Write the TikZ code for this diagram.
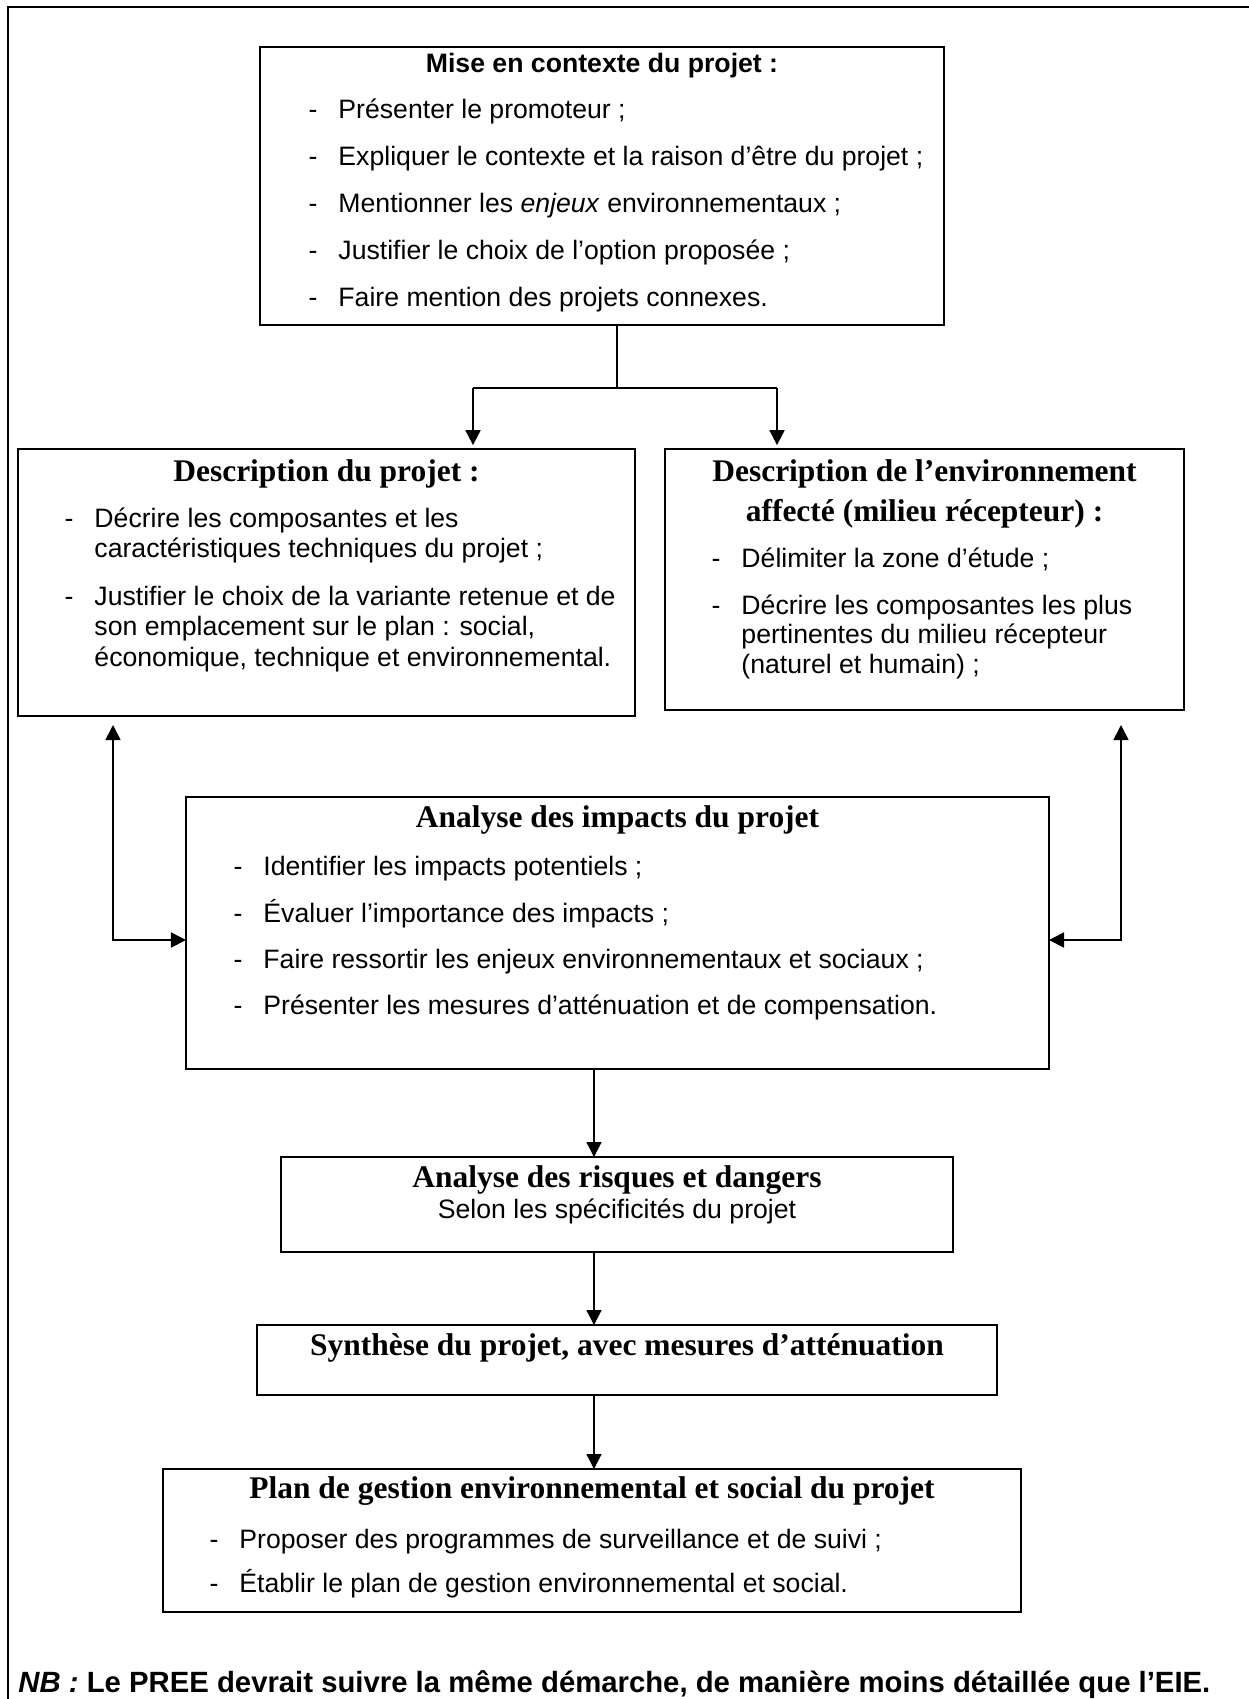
\documentclass[tikz,border=0pt]{standalone}
\usepackage{fontspec}
\setmainfont{Liberation Sans}
\newfontfamily\titrefont{Liberation Serif}
\usetikzlibrary{arrows.meta}

\newdimen\unitpx
\unitpx=0.413pt
\newcommand{\tiret}{\llap{-\hspace{21\unitpx}}}

\begin{document}
\begin{tikzpicture}[x=0.413pt, y=-0.413pt,
	boite/.style={draw, line width=0.8pt, anchor=north west, inner sep=0pt, outer sep=0pt},
	lien/.style={line width=0.7pt},
	fleche/.style={line width=0.7pt, -{Triangle[length=6.2pt, width=6.2pt]}},
	fleches/.style={line width=0.7pt, {Triangle[length=6.2pt, width=6.2pt]}-{Triangle[length=6.2pt, width=6.2pt]}},
	ligne/.style={anchor=base west, inner sep=0pt, font=\fontsize{11}{13}\selectfont},
	centre/.style={anchor=base, inner sep=0pt, font=\fontsize{11}{13}\selectfont},
	titre/.style={anchor=base, inner sep=0pt, font=\titrefont\fontsize{13}{15}\selectfont\bfseries}]
	
	\useasboundingbox (0,0) rectangle (1249,1699);
	
	\draw [line width=0.95pt] (8,1699) -- (8,7) -- (1249,7);
	
	\node [boite, minimum width={684*\unitpx}, minimum height={278*\unitpx}] (contexte) at (260,47) {};
	\node [centre, font=\fontsize{11}{13}\selectfont\bfseries] (c0) at (602,72) {Mise en contexte du projet :};
	\node [ligne] (c1) at (338,118) {\tiret Présenter le promoteur ;};
	\node [ligne] (c2) at (338,165) {\tiret Expliquer le contexte et la raison d’être du projet ;};
	\node [ligne] (c3) at (338,212) {\tiret Mentionner les \textit{enjeux} environnementaux ;};
	\node [ligne] (c4) at (338,259) {\tiret Justifier le choix de l’option proposée ;};
	\node [ligne] (c5) at (338,306) {\tiret Faire mention des projets connexes.};
	
	\node [boite, minimum width={617*\unitpx}, minimum height={267*\unitpx}] (descr) at (18,449) {};
	\node [titre] (d0) at (326.5,481) {Description du projet :};
	\node [ligne] (d1) at (94,527) {\tiret Décrire les composantes et les};
	\node [ligne] (d2) at (94,557) {caractéristiques techniques du projet ;};
	\node [ligne] (d3) at (94,605) {\tiret Justifier le choix de la variante retenue et de};
	\node [ligne] (d4) at (94,635) {son emplacement sur le plan : social,};
	\node [ligne] (d5) at (94,666) {économique, technique et environnemental.};
	
	\node [boite, minimum width={519*\unitpx}, minimum height={261*\unitpx}] (env) at (665,449) {};
	\node [titre] (e0) at (924.5,481) {Description de l’environnement};
	\node [titre] (e1) at (924.5,521) {affecté (milieu récepteur) :};
	\node [ligne] (e2) at (741,567) {\tiret Délimiter la zone d’étude ;};
	\node [ligne] (e3) at (741,614) {\tiret Décrire les composantes les plus};
	\node [ligne] (e4) at (741,643) {pertinentes du milieu récepteur};
	\node [ligne] (e5) at (741,673) {(naturel et humain) ;};
	
	\node [boite, minimum width={863*\unitpx}, minimum height={272*\unitpx}] (impacts) at (186,797) {};
	\node [titre] (i0) at (617.5,827) {Analyse des impacts du projet};
	\node [ligne] (i1) at (263,875) {\tiret Identifier les impacts potentiels ;};
	\node [ligne] (i2) at (263,922) {\tiret Évaluer l’importance des impacts ;};
	\node [ligne] (i3) at (263,968) {\tiret Faire ressortir les enjeux environnementaux et sociaux ;};
	\node [ligne] (i4) at (263,1014) {\tiret Présenter les mesures d’atténuation et de compensation.};
	
	\node [boite, minimum width={672*\unitpx}, minimum height={95*\unitpx}] (risques) at (281,1157) {};
	\node [titre] (r0) at (617,1187) {Analyse des risques et dangers};
	\node [centre] (r1) at (617,1218) {Selon les spécificités du projet};
	
	\node [boite, minimum width={740*\unitpx}, minimum height={70*\unitpx}] (synthese) at (257,1325) {};
	\node [titre] (s0) at (627,1355) {Synthèse du projet, avec mesures d’atténuation};
	
	\node [boite, minimum width={858*\unitpx}, minimum height={143*\unitpx}] (plan) at (163,1469) {};
	\node [titre] (p0) at (592,1498) {Plan de gestion environnemental et social du projet};
	\node [ligne] (p1) at (239,1548) {\tiret Proposer des programmes de surveillance et de suivi ;};
	\node [ligne] (p2) at (239,1592) {\tiret Établir le plan de gestion environnemental et social.};
	
	\node [ligne, font=\fontsize{12.1}{14}\selectfont\bfseries] (nb) at (18,1692) {\textit{NB :} Le PREE devrait suivre la même démarche, de manière moins détaillée que l’EIE.};
	
	\coordinate (fourche) at (617,388);
	\coordinate (fg) at (473,388);
	\coordinate (fd) at (777,388);
	\draw [lien] (contexte.south -| fourche) -- (fourche);
	\draw [lien] (fg) -- (fd);
	\draw [fleche, shorten >=1.6pt] (fg) -- (fg |- descr.north);
	\draw [fleche, shorten >=1.6pt] (fd) -- (fd |- env.north);
	
	\coordinate (hg) at (113,725);
	\coordinate (hd) at (1121,725);
	\draw [fleches] (hg) |- (impacts.west |- 0,940);
	\draw [fleches] (hd) |- (impacts.east |- 0,940);
	
	\coordinate (axe) at (594,0);
	\draw [fleche] (impacts.south -| axe) -- (risques.north -| axe);
	\draw [fleche] (risques.south -| axe) -- (synthese.north -| axe);
	\draw [fleche] (synthese.south -| axe) -- (plan.north -| axe);
	
\end{tikzpicture}
\end{document}
